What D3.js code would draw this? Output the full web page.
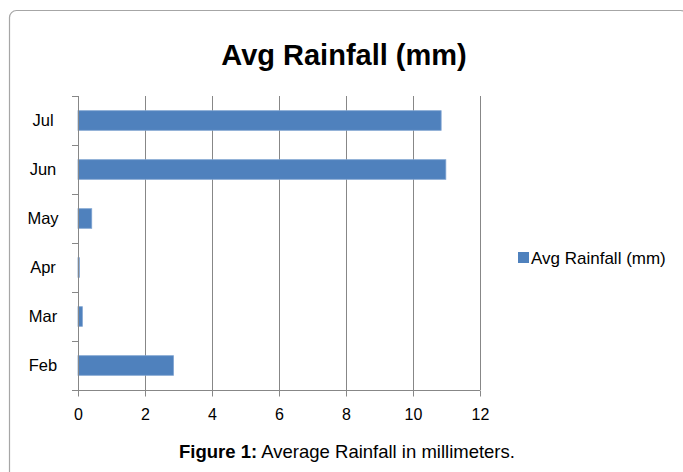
<!DOCTYPE html>
<html>
<head>
<meta charset="utf-8">
<script src="https://cdn.jsdelivr.net/npm/d3@7"></script>
<style>
  html, body { margin: 0; padding: 0; background: #fff; }
  svg { display: block; font-family: "Liberation Sans", Arial, sans-serif; }
</style>
</head>
<body>
<svg id="chart" width="683" height="472"></svg>
<script>
const months = ["Feb", "Mar", "Apr", "May", "Jun", "Jul"];
const rainfall = [2.85, 0.13, 0.04, 0.41, 10.98, 10.84];
const xTicks = [0, 2, 4, 6, 8, 10, 12];
const titleText = "Avg Rainfall (mm)";
const seriesName = "Avg Rainfall (mm)";

const svg = d3.select("#chart");

// outer frame
svg.append("rect")
  .attr("x", 9.5).attr("y", 10.5)
  .attr("width", 678).attr("height", 475)
  .attr("rx", 7).attr("ry", 7)
  .attr("fill", "#fff").attr("stroke", "#a6a6a6").attr("stroke-width", 1.2);

const plot = { left: 78, right: 480, top: 96, bottom: 390 };

const x = d3.scaleLinear().domain([0, 12]).range([plot.left, plot.right]);
const y = d3.scaleBand().domain(months.slice().reverse())
  .range([plot.top, plot.bottom]).paddingInner(0.6).paddingOuter(0.3);
const yEdges = d3.scaleLinear().domain([0, months.length]).range([plot.top, plot.bottom]);

// gridlines
svg.append("g").selectAll("line").data(xTicks.slice(1)).join("line")
  .attr("x1", d => Math.round(x(d)) + 0.5).attr("x2", d => Math.round(x(d)) + 0.5)
  .attr("y1", plot.top).attr("y2", plot.bottom)
  .attr("stroke", "#878787").attr("stroke-width", 1);

// bars
const data = months.map((m, i) => ({ m, v: rainfall[i] }));
svg.append("g").selectAll("rect").data(data).join("rect")
  .attr("x", x(0))
  .attr("y", d => y(d.m))
  .attr("width", d => Math.max(1, x(d.v) - x(0)))
  .attr("height", y.bandwidth())
  .attr("fill", "#4f81bd")
  .attr("stroke", "#7fa3d1").attr("stroke-width", 0.8);

// x axis
const xAxis = d3.axisBottom(x).tickValues(xTicks).tickSize(6).tickPadding(12).tickFormat(d3.format("d"));
const gx = svg.append("g").attr("transform", `translate(0,${plot.bottom + 0.5})`).call(xAxis);
gx.attr("font-size", 16).attr("font-family", "Liberation Sans, Arial, sans-serif");
gx.select(".domain").attr("stroke", "#878787").attr("d", `M${plot.left - 6},0H${plot.right}`);
gx.selectAll(".tick line").attr("stroke", "#878787");
gx.selectAll(".tick text").attr("fill", "#000");

// y axis line and category edge ticks
svg.append("line")
  .attr("x1", plot.left + 0.5).attr("x2", plot.left + 0.5)
  .attr("y1", plot.top).attr("y2", plot.bottom + 6)
  .attr("stroke", "#878787");
svg.append("g").selectAll("line").data(d3.range(months.length + 1)).join("line")
  .attr("x1", plot.left - 6).attr("x2", plot.left)
  .attr("y1", d => Math.round(yEdges(d)) + 0.5).attr("y2", d => Math.round(yEdges(d)) + 0.5)
  .attr("stroke", "#878787");

// y labels
svg.append("g").selectAll("text").data(months).join("text")
  .attr("x", 43)
  .attr("y", d => y(d) + y.bandwidth() / 2)
  .attr("dy", "0.35em")
  .attr("text-anchor", "middle")
  .attr("font-size", 16.5).attr("fill", "#000")
  .text(d => d);

// title
svg.append("text")
  .attr("x", 344).attr("y", 65)
  .attr("text-anchor", "middle")
  .attr("font-size", 29).attr("font-weight", "bold")
  .text(titleText);

// legend
svg.append("rect").attr("x", 518).attr("y", 252).attr("width", 11).attr("height", 11)
  .attr("fill", "#4f81bd");
svg.append("text").attr("x", 531).attr("y", 264)
  .attr("font-size", 17).text(seriesName);

// caption
const cap = svg.append("text").attr("x", 347).attr("y", 458)
  .attr("text-anchor", "middle").attr("font-size", 18.5);
cap.append("tspan").attr("font-weight", "bold").text("Figure 1:");
cap.append("tspan").text(" Average Rainfall in millimeters.");
</script>
</body>
</html>
